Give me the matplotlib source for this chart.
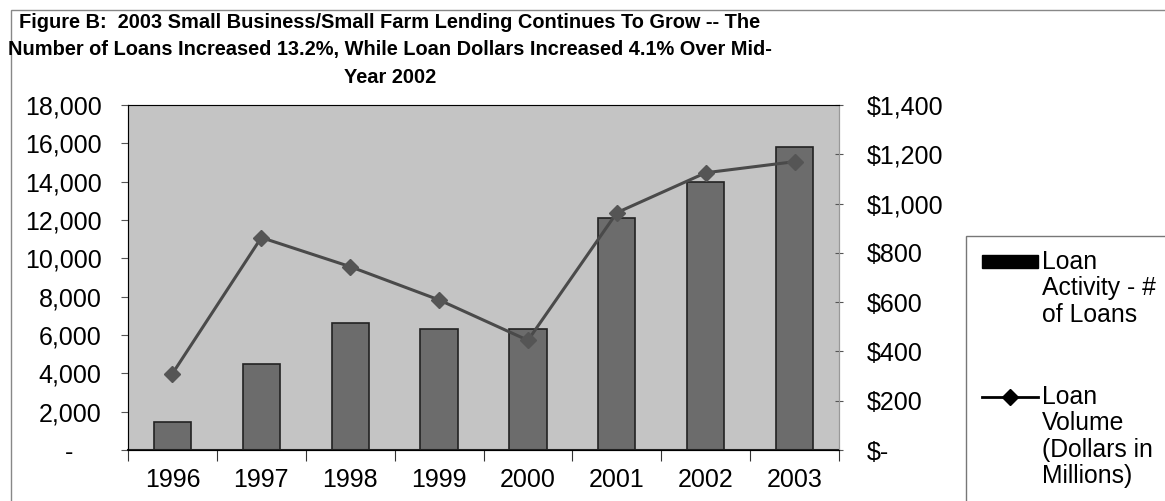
import matplotlib
matplotlib.use('Agg')
from matplotlib import pyplot as plt
from matplotlib.patches import Rectangle
from matplotlib.lines import Line2D
import numpy as np

years = ['1996', '1997', '1998', '1999', '2000', '2001', '2002', '2003']
loan_count = [1450, 4500, 6650, 6300, 6300, 12100, 14000, 15800]
loan_dollars = [310, 862, 744, 609, 445, 963, 1125, 1170]  # millions

left_ticks = [0, 2000, 4000, 6000, 8000, 10000, 12000, 14000, 16000, 18000]
left_labels = ['-    ', '2,000', '4,000', '6,000', '8,000', '10,000', '12,000',
               '14,000', '16,000', '18,000']
right_ticks = [0, 200, 400, 600, 800, 1000, 1200, 1400]
right_labels = ['$-', '$200', '$400', '$600', '$800', '$1,000', '$1,200', '$1,400']

title = ('Figure B:  2003 Small Business/Small Farm Lending Continues To Grow -- The\n'
         'Number of Loans Increased 13.2%, While Loan Dollars Increased 4.1% Over Mid-\n'
         'Year 2002')
legend_labels = ['Loan\nActivity - #\nof Loans', 'Loan\nVolume\n(Dollars in\nMillions)']

plt.rcParams['font.family'] = ['Liberation Sans', 'DejaVu Sans']

W, H = 1165, 501
fig = plt.figure(figsize=(W / 100, H / 100), dpi=100)

# outer chart border
fig.patches.append(Rectangle((11 / W, -0.1), 1.2, 1 - 10 / H + 0.1, transform=fig.transFigure,
                             fill=False, edgecolor='#888888', linewidth=1))

ax = fig.add_axes([128 / W, 1 - 450 / H, (839 - 128) / W, (450 - 105) / H])
ax.set_facecolor('#c4c4c4')
x = np.arange(len(years))
ax.bar(x, loan_count, width=0.42, color='#6c6c6c', edgecolor='#222222', linewidth=1.2, zorder=2)
ax.set_xlim(-0.5, len(years) - 0.5)
ax.set_ylim(0, 18000)
ax.set_yticks(left_ticks)
ax.set_yticklabels(left_labels)
ax.tick_params(axis='y', labelsize=18, length=5, color='#555555', pad=14)

ax.set_xticks(np.arange(-0.5, len(years), 1))
ax.set_xticklabels([])
ax.set_xticks(x, minor=True)
ax.set_xticklabels(years, minor=True)
ax.tick_params(axis='x', which='major', length=8, direction='out', color='#333333')
ax.tick_params(axis='x', which='minor', length=0, labelsize=18, pad=13)

for s in ['top', 'right']:
    ax.spines[s].set_color('#999999')
ax.spines['left'].set_color('#666666')
ax.spines['bottom'].set_color('#222222')
ax.spines['bottom'].set_linewidth(1.5)

ax2 = ax.twinx()
ax2.plot(x, loan_dollars, color='#4a4a4a', linewidth=2.2, marker='D', markersize=8.5,
         markerfacecolor='#555555', markeredgecolor='#555555', zorder=3)
ax2.set_ylim(0, 1400)
ax2.set_yticks(right_ticks)
ax2.set_yticklabels(right_labels)
ax2.tick_params(axis='y', labelsize=18, length=6, direction='inout', color='#555555', pad=17)
ax2.spines['right'].set_color('#999999')

fig.text(390 / W, 1 - 50 / H, title, ha='center', va='center', fontsize=14.4,
         fontweight='bold', linespacing=1.55)

# legend (drawn by hand to match the multi-line layout)
fig.patches.append(Rectangle((966 / W, -0.1), 0.5, 1 - 236 / H + 0.1, transform=fig.transFigure,
                             fill=False, edgecolor='#777777', linewidth=1))
fig.patches.append(Rectangle((982 / W, 1 - 268 / H), 56 / W, 13 / H, transform=fig.transFigure,
                             facecolor='black', edgecolor='black'))
fig.lines.append(Line2D([982 / W, 1038 / W], [1 - 397 / H, 1 - 397 / H], transform=fig.transFigure,
                        color='black', linewidth=2))
fig.lines.append(Line2D([1010 / W], [1 - 397 / H], transform=fig.transFigure,
                        color='black', marker='D', markersize=8, linestyle='none'))
for lbl, ytop in zip(legend_labels, [250, 385]):
    fig.text(1042 / W, 1 - ytop / H, lbl, ha='left', va='top', fontsize=17.8, linespacing=1.13)

fig.savefig('out.png', dpi=100)
